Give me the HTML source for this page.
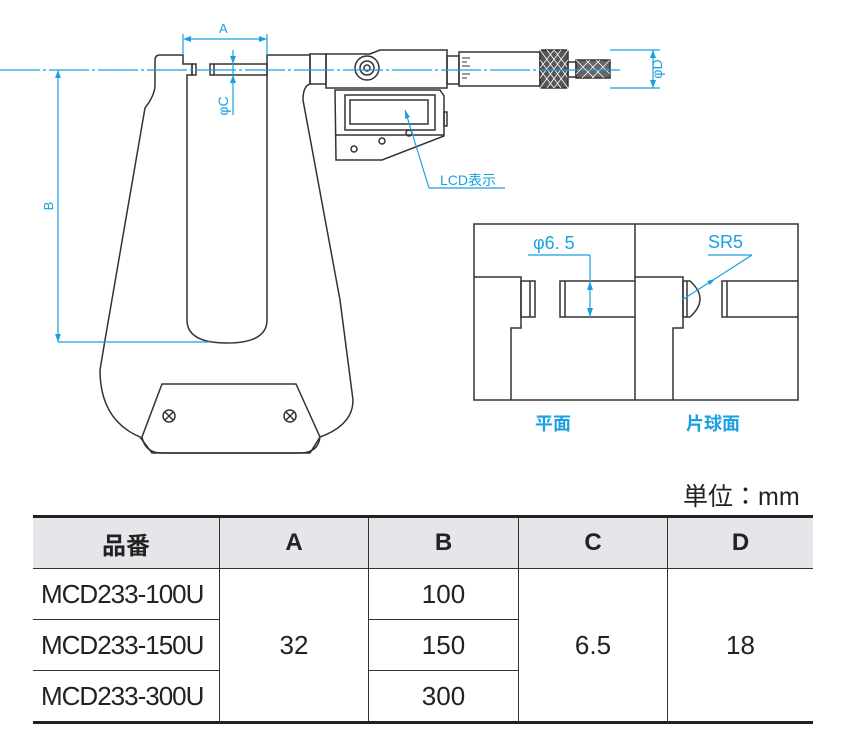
<!DOCTYPE html>
<html><head><meta charset="utf-8"><style>
body{margin:0;background:#fff;width:850px;height:750px;overflow:hidden;position:relative;font-family:"Liberation Sans","Noto Sans CJK JP",sans-serif}
svg{position:absolute;left:0;top:0}
table{position:absolute;left:33px;top:515px;width:780px;border-collapse:collapse;font-size:26px;color:#222}
td,th{border:1.5px solid #333;text-align:center;padding:0;height:50px;font-weight:normal}
th{background:#e6e6ea;font-weight:bold;font-size:24px;height:50px}
tr:first-child th{border-top:3px solid #222}
tr:last-child td,td.b{border-bottom:3px solid #222}
td.l{text-align:left;padding-left:8px;letter-spacing:-1px}
td:first-child,th:first-child{border-left:none}
td:last-child,th:last-child{border-right:none}
.unit{position:absolute;left:683px;top:477px;font-size:25px;color:#222}
</style></head><body>
<svg width="850" height="750" viewBox="0 0 850 750" fill="none" stroke="#333" stroke-width="1.5">
<path d="M155,60 Q155,55 160,55 L183,55 L183,64 L192,64 L192,75 L187,75 L187,320 Q187,343 227,343 Q267,343 267,320 L267,55 L310,55 L310,84 Q303,86 303,100 L340,300 L353,400 Q353,425 320,437 L310,453 L152,453 L140,437 Q100,420 100,370 L105,340 L145,108 Q155,95 155,85 Z" fill="#fff"/>
<path d="M162,384 L296,384 L320,437 Q318,453 300,453 L162,453 Q145,453 142,437 Z"/>
<circle cx="169" cy="416" r="6"/><path d="M165,412 l8,8 M173,412 l-8,8"/>
<circle cx="290" cy="416" r="6"/><path d="M286,412 l8,8 M294,412 l-8,8"/>
<rect x="192" y="64" width="4" height="11"/>
<rect x="210" y="64" width="57" height="11"/><line x1="214" y1="64" x2="214" y2="75"/>
<rect x="310" y="54" width="16" height="30"/>
<path d="M326,54 L370,54 L380,50 L447,50 L447,88 L326,88 Z"/>
<circle cx="367" cy="68" r="12"/><circle cx="367" cy="68" r="7"/><circle cx="367" cy="68" r="3"/>
<path d="M335,90 L440,90 L444,96 L444,136 L382,160 L336,160 Z"/>
<line x1="336" y1="135" x2="444" y2="135"/>
<rect x="345" y="95" width="90" height="35"/><rect x="350" y="100" width="78" height="24"/>
<rect x="444" y="112" width="3" height="14"/>
<circle cx="354" cy="149" r="3"/><circle cx="382" cy="141" r="3"/><circle cx="409" cy="133" r="3"/>
<rect x="447" y="56" width="12" height="28"/>
<rect x="459" y="52" width="81" height="34"/>
<path d="M462,58 h8 M462,62 h5 M462,66 h8 M462,70 h5 M462,74 h8 M462,78 h5" stroke-width="1"/>
<rect x="540" y="50" width="28" height="38" fill="#555" rx="2"/>
<path d="M540,50 l28,38 M540,60 l21,28 M540,70 l14,18 M547,50 l21,28 M554,50 l14,18 M568,50 l-28,38 M561,50 l-21,28 M554,50 l-14,18 M568,60 l-21,28 M568,70 l-14,18" stroke="#fff" stroke-width="0.8"/>
<rect x="568" y="62" width="8" height="15"/>
<rect x="576" y="60" width="34" height="18" fill="#666"/>
<path d="M576,60 l18,18 M586,60 l18,18 M596,60 l14,14 M610,60 l-18,18 M600,60 l-18,18 M590,60 l-14,14" stroke="#fff" stroke-width="0.8"/>
<rect x="474" y="224" width="324" height="176"/>
<line x1="635" y1="224" x2="635" y2="400"/>
<path d="M474,277 L521,277 L521,328 L511,328 L511,400"/>
<rect x="521" y="281" width="14" height="36"/><line x1="530" y1="281" x2="530" y2="317"/>
<path d="M635,281 L560,281 L560,317 L635,317"/><line x1="565" y1="281" x2="565" y2="317"/>
<path d="M635,277 L683,277 L683,328 L673,328 L673,400"/>
<path d="M683,281 L690,281 Q700,290 700,299 Q700,308 690,317 L683,317 Z"/><line x1="687" y1="281" x2="687" y2="317"/>
<path d="M798,281 L722,281 L722,317 L798,317"/><line x1="727" y1="281" x2="727" y2="317"/>
<g stroke="#1aa0e0" stroke-width="1.2" fill="#1aa0e0">
<line x1="0" y1="70" x2="620" y2="70" stroke-dasharray="40,3,3,3"/>
<line x1="183" y1="34" x2="183" y2="55"/><line x1="267" y1="34" x2="267" y2="55"/>
<line x1="186" y1="39" x2="264" y2="39"/>
<path d="M183,39 l8,-3 v6z M267,39 l-8,-3 v6z" stroke="none"/>
<line x1="233" y1="50" x2="233" y2="115"/>
<path d="M233,64 l-3,-8 h6z M233,75 l-3,8 h6z" stroke="none"/>
<line x1="58" y1="70" x2="58" y2="342"/><line x1="58" y1="342" x2="210" y2="342"/>
<path d="M58,70 l-3,8 h6z M58,342 l-3,-8 h6z" stroke="none"/>
<line x1="610" y1="50" x2="660" y2="50"/><line x1="610" y1="88" x2="660" y2="88"/><line x1="653" y1="50" x2="653" y2="88"/>
<path d="M653,50 l-3,8 h6z M653,88 l-3,-8 h6z" stroke="none"/>
<line x1="405" y1="110" x2="429" y2="188"/><line x1="429" y1="188" x2="505" y2="188"/>
<path d="M405,110 l0,9 l5,-2z" stroke="none"/>
<line x1="528" y1="255" x2="590" y2="255"/><line x1="590" y1="255" x2="590" y2="317"/>
<path d="M590,281 l-3,9 h6z M590,317 l-3,-9 h6z" stroke="none"/>
<line x1="708" y1="255" x2="752" y2="255"/><line x1="752" y1="255" x2="682" y2="300"/>
<path d="M715,279 l-8,2 3,4z" stroke="none"/>
</g>
<g fill="#1aa0e0" stroke="none" font-family="Liberation Sans,Noto Sans CJK JP,sans-serif">
<text x="219" y="33" font-size="13">A</text>
<text x="228" y="106" font-size="14" transform="rotate(-90 228 106)" text-anchor="middle">φC</text>
<text x="53" y="206" font-size="13" transform="rotate(-90 53 206)" text-anchor="middle">B</text>
<text x="662" y="69" font-size="14" transform="rotate(-90 662 69)" text-anchor="middle">φD</text>
<text x="440" y="185" font-size="14">LCD表示</text>
<text x="533" y="249" font-size="18">φ6. 5</text>
<text x="708" y="248" font-size="18">SR5</text>
<text x="535" y="430" font-size="18" font-weight="bold">平面</text>
<text x="686" y="430" font-size="18" font-weight="bold">片球面</text>
</g>
</svg>
<div class="unit">単位：mm</div>
<table>
<tr><th style="width:186px">品番</th><th style="width:148px">A</th><th style="width:149px">B</th><th style="width:148px">C</th><th>D</th></tr>
<tr><td class="l">MCD233-100U</td><td rowspan="3" class="b">32</td><td>100</td><td rowspan="3" class="b">6.5</td><td rowspan="3" class="b">18</td></tr>
<tr><td class="l">MCD233-150U</td><td>150</td></tr>
<tr><td class="l">MCD233-300U</td><td>300</td></tr>
</table>
</body></html>
